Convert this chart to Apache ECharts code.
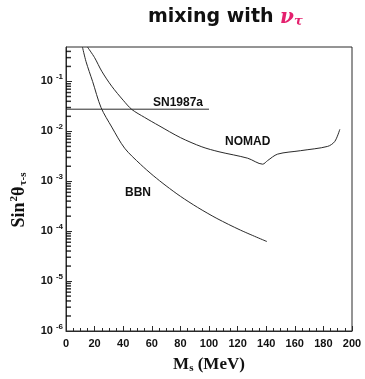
<!DOCTYPE html>
<html>
<head>
<meta charset="utf-8">
<script src="https://cdn.jsdelivr.net/npm/echarts@6/dist/echarts.min.js"></script>
<style>
  html, body { margin: 0; padding: 0; background: #fff; }
  #chart { width: 365px; height: 379px; }
</style>
</head>
<body>
<div id="chart"></div>
<script>
// sterile neutrino mass (MeV) vs sin^2(theta)
const sn1987a = [[0, 0.0278], [100, 0.0278]]

const nomad = [
  [15, 0.49], [20, 0.3], [25, 0.16], [32, 0.08], [40, 0.042], [46, 0.0275],
  [55, 0.019], [65, 0.013], [80, 0.0075], [95, 0.0049], [107, 0.0039],
  [127, 0.0029], [137.5, 0.0022], [141, 0.0026], [148, 0.0035], [164, 0.0041],
  [183, 0.005], [188, 0.0063], [191.5, 0.011],
]

const bbn = [
  [11.5, 0.49], [14, 0.25], [18.6, 0.1], [24.5, 0.03], [32, 0.0122],
  [41, 0.0046], [52, 0.0022], [61, 0.0013], [70, 0.00081], [80, 0.0005],
  [92, 0.0003], [105.5, 0.00018], [122, 0.000105], [140.5, 0.000062],
]

// log-axis minor ticks: mantissas within each decade
const decades = [1e-6, 1e-5, 1e-4, 1e-3, 1e-2, 1e-1]
const mantissas = [2, 3, 4, 5, 6, 7, 8, 9]

const curveLabels = [
  { text: 'SN1987a', left: 153, top: 97 },
  { text: 'NOMAD', left: 225, top: 136 },
  { text: 'BBN', left: 125, top: 187 },
]

const ink = '#2a2a2a'
const serif = 'Liberation Serif'
const sans = 'Liberation Sans'
const yMax = 0.49

const minorTickValues = decades
  .flatMap((d) => mantissas.map((m) => m * d))
  .filter((v) => v < yMax)

const chart = echarts.init(document.getElementById('chart'), null, { renderer: 'canvas' })

const lineSeries = (name, data, smooth) => ({
  name,
  type: 'line',
  data,
  smooth,
  symbol: 'none',
  silent: true,
  lineStyle: { color: ink, width: 1 },
})

chart.setOption({
  animation: false,
  backgroundColor: '#fff',
  title: {
    left: 143,
    top: 2,
    text: '{a|mixing with }{nu|ν}{tau|τ}',
    textStyle: {
      rich: {
        a: { fontFamily: 'DejaVu Sans', fontWeight: 'bold', fontSize: 19, color: '#111' },
        nu: { fontFamily: 'DejaVu Serif', fontStyle: 'italic', fontSize: 20, color: '#e4206e' },
        tau: { fontFamily: 'DejaVu Serif', fontStyle: 'italic', fontSize: 13, color: '#e4206e', padding: [8, 0, 0, 0] },
      },
    },
  },
  grid: {
    left: 66,
    right: 13,
    top: 47,
    bottom: 37,
    show: true,
    borderColor: ink,
    borderWidth: 1,
  },
  xAxis: {
    type: 'value',
    min: 0,
    max: 200,
    interval: 20,
    axisLine: { show: true, lineStyle: { color: ink } },
    axisTick: { show: true, inside: true, length: 5, lineStyle: { color: ink } },
    minorTick: { show: true, splitNumber: 4, length: 3, lineStyle: { color: ink } },
    splitLine: { show: false },
    axisLabel: { color: '#111', fontFamily: sans, fontWeight: 'bold', fontSize: 11, margin: 7 },
    name: '{m|M}{sub|s}{m| (MeV)}',
    nameLocation: 'middle',
    nameGap: 25,
    nameTextStyle: {
      rich: {
        m: { fontFamily: serif, fontWeight: 'bold', fontSize: 17, color: '#111' },
        sub: { fontFamily: serif, fontWeight: 'bold', fontSize: 11, color: '#111', padding: [7, 0, 0, 0] },
      },
    },
  },
  yAxis: {
    type: 'log',
    logBase: 10,
    min: 1e-6,
    max: yMax,
    axisLine: { show: true, lineStyle: { color: ink } },
    axisTick: { show: true, inside: true, length: 6, lineStyle: { color: ink } },
    splitLine: { show: false },
    axisLabel: {
      margin: 3,
      showMaxLabel: false,
      formatter: (value) => {
        const e = Math.log10(value)
        if (Math.abs(e - Math.round(e)) > 0.01) {
          return ''
        }
        return `{b|10}{s|${Math.round(e)}}`
      },
      rich: {
        b: { fontFamily: sans, fontWeight: 'bold', fontSize: 11, color: '#111' },
        s: { fontFamily: sans, fontWeight: 'bold', fontSize: 8, color: '#111', padding: [0, 0, 9, 3] },
      },
    },
    name: '{m|Sin}{sup|2}{m|θ}{sub|τ-s}',
    nameLocation: 'middle',
    nameGap: 36,
    nameRotate: 90,
    nameTextStyle: {
      padding: [0, 22, 0, 0],
      rich: {
        m: { fontFamily: serif, fontWeight: 'bold', fontSize: 18, color: '#111' },
        sup: { fontFamily: serif, fontWeight: 'bold', fontSize: 11, color: '#111', padding: [0, 0, 10, 1] },
        sub: { fontFamily: serif, fontWeight: 'bold', fontSize: 11, color: '#111', padding: [8, 0, 0, 1] },
      },
    },
  },
  series: [
    lineSeries('SN1987a', sn1987a, false),
    lineSeries('NOMAD', nomad, 0.3),
    lineSeries('BBN', bbn, 0.3),
    {
      // short inward ticks at 2..9 x 10^n on the log axis
      name: 'minor ticks',
      type: 'scatter',
      silent: true,
      clip: false,
      z: 5,
      data: minorTickValues.map((v) => [0, v]),
      symbol: 'rect',
      symbolSize: [5, 1.5],
      symbolOffset: [2.5, 0],
      itemStyle: { color: '#000' },
    },
  ],
  graphic: curveLabels.map((l) => ({
    type: 'text',
    left: l.left,
    top: l.top,
    silent: true,
    style: { text: l.text, font: `bold 12px ${sans}`, fill: '#111' },
  })),
})
</script>
</body>
</html>
